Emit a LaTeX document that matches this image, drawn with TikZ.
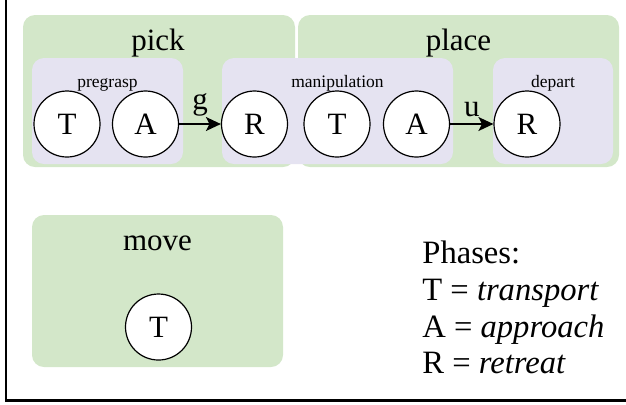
\documentclass[tikz,border=0pt]{standalone}
\usepackage{fontspec}
\setmainfont{Liberation Serif}
\usetikzlibrary{arrows.meta}
\definecolor{skillgreen}{HTML}{D3E7C9}
\definecolor{segpurple}{HTML}{E5E3F1}

\begin{document}
\begin{tikzpicture}[x=0.5pt, y=-0.5pt,
    skill/.style={fill=skillgreen, rounded corners=6pt, inner sep=0pt},
    segment/.style={fill=segpurple, rounded corners=6pt, inner sep=0pt},
    phase/.style={circle, draw, fill=white, line width=0.6pt,
        minimum size=33pt, inner sep=0pt, font=\fontsize{15.5}{18}\selectfont},
    title/.style={anchor=base, font=\fontsize{15.5}{18}\selectfont},
    subtitle/.style={anchor=base, font=\fontsize{8.75}{10}\selectfont},
    trans/.style={-{Stealth[length=7.5pt, width=7pt, inset=1.8pt]}, line width=0.7pt},
    legend/.style={anchor=base west, inner sep=0pt, font=\fontsize{16.3}{18}\selectfont}]
\useasboundingbox (0,0) rectangle (626,404);
% Frame (left and bottom edges)
\draw[line width=1.3pt] (6,-5) -- (6,400.5) -- (632,400.5);
% Skill boxes
\node[skill, minimum width=136pt, minimum height=76pt] (pick) at (159,91) {};
\node[skill, minimum width=160.5pt, minimum height=76pt] (place) at (458.5,91) {};
\node[skill, minimum width=125.5pt, minimum height=76pt] (move) at (157.5,291) {};
\node[title] (picktitle) at (158,50) {pick};
\node[title] (placetitle) at (458.5,50) {place};
\node[title] (movetitle) at (157.5,250) {move};
% Segment boxes
\node[segment, minimum width=75.5pt, minimum height=53pt] (pregrasp) at (107.5,111) {};
\node[segment, minimum width=115.5pt, minimum height=53pt] (manip) at (337.5,111) {};
\node[segment, minimum width=60pt, minimum height=53pt] (depart) at (553,111) {};
\node[subtitle] (pregrasptitle) at (107.5,87) {pregrasp};
\node[subtitle] (maniptitle) at (337.5,87) {manipulation};
\node[subtitle] (departtitle) at (553,87) {depart};
% Phases
\foreach \name/\txt/\x in {t1/T/67, a1/A/145.5, r1/R/254.5,
                          t2/T/337, a2/A/416.5, r2/R/527}{
    \node[phase] (\name) at (\x,124) {\txt};
}
\node[phase] (t3) at (158.5,327) {T};
% Transitions
\draw[trans] (a1) -- node[above, font=\fontsize{15.5}{18}\selectfont] (g) {g} (r1);
\draw[trans] (a2) -- node[above, font=\fontsize{15.5}{18}\selectfont] (u) {u} (r2);
% Legend
\node[legend] (leghead) at (422,263) {Phases:};
\node[legend] (legt) at (422,300) {T = \textit{transport}};
\node[legend] (lega) at (422,337) {A = \textit{approach}};
\node[legend] (legr) at (422,373) {R = \textit{retreat}};
\end{tikzpicture}
\end{document}
